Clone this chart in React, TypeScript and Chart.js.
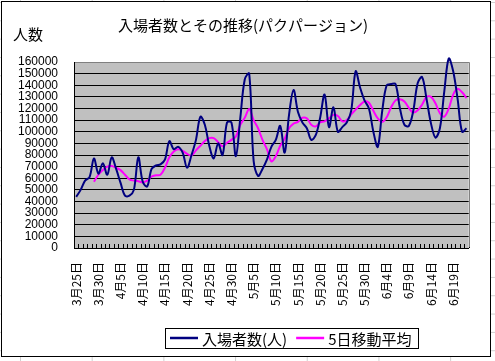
import { useEffect, useRef } from "react";
import { Chart, registerables } from "chart.js";

Chart.register(...registerables);

const TITLE = "入場者数とその推移(パクパージョン)";
const Y_TITLE = "人数";
const SERIES_NAMES = ["入場者数(人)", "5日移動平均"];
const SERIES_COLORS = ["#000080", "#FF00FF"];

const DATES = [
  "3月25日", "3月26日", "3月27日", "3月28日", "3月29日", "3月30日",
  "4月1日", "4月2日", "4月3日", "4月4日", "4月5日", "4月6日", "4月7日", "4月8日", "4月9日",
  "4月10日", "4月11日", "4月12日", "4月13日", "4月14日", "4月15日", "4月16日", "4月17日", "4月18日", "4月19日",
  "4月20日", "4月21日", "4月22日", "4月23日", "4月24日", "4月25日", "4月26日", "4月27日", "4月28日", "4月29日", "4月30日",
  "5月1日", "5月2日", "5月3日", "5月4日", "5月5日", "5月6日", "5月7日", "5月8日", "5月9日",
  "5月10日", "5月11日", "5月12日", "5月13日", "5月14日", "5月15日", "5月16日", "5月17日", "5月18日", "5月19日",
  "5月20日", "5月21日", "5月22日", "5月23日", "5月24日", "5月25日", "5月26日", "5月27日", "5月28日", "5月29日",
  "5月30日", "5月31日", "6月1日", "6月2日", "6月3日", "6月4日", "6月5日", "6月6日", "6月7日", "6月8日",
  "6月9日", "6月10日", "6月11日", "6月12日", "6月13日", "6月14日", "6月15日", "6月16日", "6月17日", "6月18日",
  "6月19日", "6月20日", "6月21日", "6月22日",
];

const VISITORS = [
  44000, 50000, 58000, 61000, 77000, 64000, 73000, 63000, 78000, 68000,
  56000, 45000, 45000, 50000, 78000, 57000, 53000, 68000, 71000, 72000,
  76000, 92000, 85000, 87000, 82000, 69000, 80000, 93000, 113000, 106000,
  88000, 77000, 90000, 80000, 108000, 108000, 79000, 112000, 145000, 150000,
  75000, 62000, 68000, 76000, 87000, 93000, 105000, 82000, 115000, 136000,
  117000, 108000, 103000, 93000, 97000, 112000, 132000, 104000, 121000, 100000,
  104000, 108000, 118000, 152000, 138000, 127000, 120000, 100000, 87000, 118000,
  140000, 141000, 141000, 120000, 106000, 105000, 118000, 142000, 147000, 128000,
  107000, 95000, 103000, 135000, 163000, 152000, 128000, 100000, 103000,
];

const MOVING_AVG = [
  null, null, null, null, 57000, 63000, 67000, 70000, 70500, 69000,
  67000, 63000, 59000, 58000, 57500, 56500, 58000, 61500, 62500, 63000,
  69000, 78000, 83000, 85000, 83500, 81000, 79500, 84000, 88000, 92000,
  94500, 94500, 91000, 87500, 90500, 93000, 96000, 106000, 112000, 119500,
  110000, 103000, 93000, 85000, 74500, 79000, 88000, 94000, 103000, 107000,
  108500, 112000, 111500, 106000, 104500, 108000, 109000, 111500, 114500, 113500,
  109000, 110000, 115000, 119000, 123000, 126000, 125000, 118000, 111500, 108500,
  112500, 121000, 127000, 128000, 126000, 120500, 116500, 118500, 123500, 130000,
  130000, 124500, 116000, 113000, 120000, 132000, 137000, 134000, 129000,
];

const CJK = "'Noto Sans CJK JP', 'Liberation Sans', sans-serif";

const decor = {
  id: "decor",
  beforeDraw(chart: any) {
    const { ctx, chartArea: a } = chart;
    ctx.save();
    ctx.fillStyle = "#ffffff";
    ctx.fillRect(1, 1, 490, 356);
    ctx.strokeStyle = "#000000";
    ctx.lineWidth = 1;
    ctx.strokeRect(1.5, 1.5, 489, 355);
    ctx.fillStyle = "#c0c0c0";
    ctx.fillRect(a.left, a.top, a.right - a.left, a.bottom - a.top);
    ctx.restore();
  },
  beforeDatasetsDraw(chart: any) {
    const { ctx, chartArea: a } = chart;
    const xs = chart.scales.x;
    const n = chart.data.labels.length;
    const w = (a.right - a.left) / n;
    ctx.save();
    ctx.strokeStyle = "#000000";
    ctx.lineWidth = 1;
    ctx.beginPath();
    for (let i = 0; i <= n; i++) {
      const px = Math.round(xs.getPixelForValue(i) - w / 2) + 0.5;
      ctx.moveTo(px, a.bottom);
      ctx.lineTo(px, a.bottom - 4);
    }
    ctx.stroke();
    ctx.strokeStyle = "#808080";
    ctx.beginPath();
    ctx.moveTo(a.left + 1, Math.round(a.top) + 0.5);
    ctx.lineTo(Math.round(a.right) + 0.5, Math.round(a.top) + 0.5);
    ctx.lineTo(Math.round(a.right) + 0.5, a.bottom - 1);
    ctx.stroke();
    ctx.restore();
  },
  afterDraw(chart: any) {
    const { ctx } = chart;
    ctx.save();
    ctx.fillStyle = "#000000";
    ctx.textBaseline = "middle";
    ctx.font = `15px ${CJK}`;
    ctx.textAlign = "center";
    ctx.fillText(TITLE, 243, 25);
    ctx.textAlign = "left";
    ctx.fillText(Y_TITLE, 13, 34);

    // legend
    const ds = chart.data.datasets;
    const boxLeft = 165;
    const boxTop = 328;
    const boxW = 253;
    const boxH = 20;
    const lineLen = 28;
    let x = boxLeft + 5;
    const cy = boxTop + boxH / 2;
    ctx.font = `15px ${CJK}`;
    for (let i = 0; i < ds.length; i++) {
      ctx.strokeStyle = ds[i].borderColor;
      ctx.lineWidth = 2.5;
      ctx.beginPath();
      ctx.moveTo(x, cy);
      ctx.lineTo(x + lineLen, cy);
      ctx.stroke();
      x += lineLen + 4;
      ctx.fillStyle = "#000000";
      ctx.fillText(ds[i].label, x, cy + 1);
      x += ctx.measureText(ds[i].label).width + 9;
    }
    ctx.strokeStyle = "#000000";
    ctx.lineWidth = 1;
    ctx.strokeRect(boxLeft + 0.5, boxTop + 0.5, boxW, boxH);
    ctx.restore();
  },
};

export default function App() {
  const ref = useRef<HTMLCanvasElement | null>(null);

  useEffect(() => {
    if (!ref.current) return;
    const chart = new Chart(ref.current, {
      type: "line",
      data: {
        labels: DATES,
        datasets: [
          {
            label: SERIES_NAMES[0],
            data: VISITORS,
            borderColor: SERIES_COLORS[0],
            borderWidth: 2,
            pointRadius: 0,
            tension: 0.35,
            clip: false as any,
            capBezierPoints: false,
            fill: false,
          },
          {
            label: SERIES_NAMES[1],
            data: MOVING_AVG,
            borderColor: SERIES_COLORS[1],
            borderWidth: 2,
            pointRadius: 0,
            tension: 0.35,
            clip: false as any,
            capBezierPoints: false,
            fill: false,
          },
        ],
      },
      options: {
        animation: false,
        responsive: false,
        devicePixelRatio: 1,
        layout: { padding: { left: 0, top: 62, right: 18, bottom: 53 } },
        plugins: {
          legend: { display: false },
          title: { display: false },
          tooltip: { enabled: false },
        },
        scales: {
          x: {
            type: "category",
            offset: true,
            grid: { display: false, drawTicks: false },
            border: { display: true, color: "#000000", width: 1 },
            ticks: {
              autoSkip: false,
              minRotation: 90,
              maxRotation: 90,
              padding: 14,
              color: "#000000",
              font: { family: CJK, size: 12 },
              callback: (_v: any, i: number) => (i % 5 === 0 ? DATES[i] : ""),
            },
            afterFit: (s: any) => {
              s.height = 60;
            },
          },
          y: {
            min: 0,
            max: 160000,
            grid: { color: "#000000", lineWidth: 1, drawTicks: false },
            border: { display: true, color: "#000000", width: 1 },
            ticks: {
              stepSize: 10000,
              autoSkip: false,
              padding: 16,
              color: "#000000",
              font: { family: "'Liberation Sans', sans-serif", size: 12 },
              callback: (v: any) => String(v),
            },
            afterFit: (s: any) => {
              s.width = 74;
            },
          },
        },
      },
      plugins: [decor],
    });
    return () => chart.destroy();
  }, []);

  return (
    <div
      style={{
        position: "absolute",
        left: 0,
        top: 0,
        width: 495,
        height: 361,
        backgroundColor: "#ffffff",
        backgroundImage:
          "linear-gradient(to right, #d0d0d0 1px, transparent 1px), linear-gradient(to bottom, #d0d0d0 1px, transparent 1px)",
        backgroundSize: "71.7px 18.33px",
        backgroundPosition: "20px 2px",
      }}
    >
      <canvas ref={ref} width={495} height={361} style={{ display: "block", width: 495, height: 361 }} />
    </div>
  );
}
